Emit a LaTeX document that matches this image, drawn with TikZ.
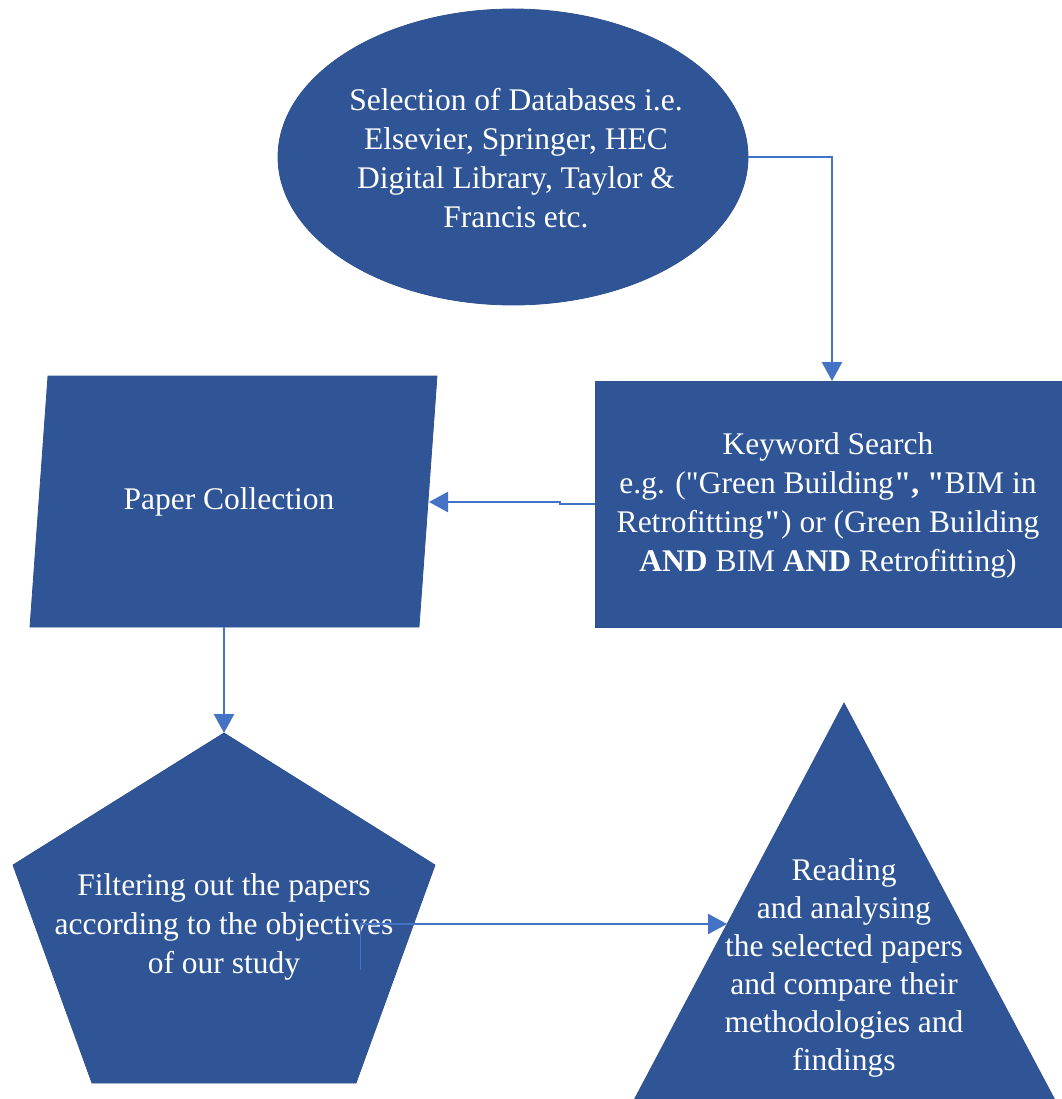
\documentclass[tikz,border=0pt]{standalone}
\usepackage{fontspec}
\setmainfont{Liberation Serif}
\usetikzlibrary{arrows.meta}
\definecolor{shapefill}{HTML}{2F5597}
\definecolor{shapeedge}{HTML}{2F528F}
\definecolor{linkblue}{HTML}{4472C4}
\newcommand{\dq}{\textquotedbl}
\tikzset{
  blockshape/.style={fill=shapefill, draw=shapeedge, line width=0.8pt},
  boxtext/.style={text=white, align=center, font=\fontsize{31.5}{39}\selectfont, inner sep=0pt},
  link/.style={draw=linkblue, line width=2.4pt, -{Triangle[length=19pt,width=20pt]}},
}
\begin{document}
\begin{tikzpicture}[x=1pt,y=-1pt]
\useasboundingbox (0,0) rectangle (1061,1099);

% block outlines
\draw[blockshape] (513,157) ellipse [x radius=235, y radius=148];
\draw[blockshape] (595,381) rectangle (1062,627);
\draw[blockshape] (48,376) -- (437,376) -- (419,627) -- (30,627) -- cycle;
\draw[blockshape] (224,733) -- (435,865) -- (356,1083) -- (92,1083) -- (13,865) -- cycle;
\draw[blockshape] (844,703) -- (1056,1102) -- (633,1102) -- cycle;

% block texts
\node[boxtext] (db) at (516,158) {Selection of Databases i.e.\\Elsevier, Springer, HEC\\Digital Library, Taylor \&\\Francis etc.};
\node[boxtext] (kw) at (828,505) {Keyword Search\\e.g. (\dq Green Building\textbf{\dq, \dq}BIM in\\Retrofitting\textbf{\dq}) or (Green Building\\\textbf{AND} BIM \textbf{AND} Retrofitting)};
\node[boxtext] (pc) at (229,502) {Paper Collection};
\node[boxtext] (flt) at (224,927) {Filtering out the papers\\according to the objectives\\of our study};
\node[boxtext, font=\fontsize{31.5}{38}\selectfont] (rd) at (844,968) {Reading\\and analysing\\the selected papers\\and compare their\\methodologies and\\findings};

% connector end points on the block borders
\coordinate (db-out) at (748,157);
\coordinate (kw-in) at (832,381);
\coordinate (kw-out) at (595,504);
\coordinate (pc-in) at (429,502);
\coordinate (pc-out) at (224,627);
\coordinate (flt-in) at (224,733);
\coordinate (flt-out) at (360,924);
\coordinate (rd-in) at (727,924);

% connectors
\draw[link] (db-out) -| (kw-in);
\draw[link] (kw-out) -- ++(-35,0) -- ++(0,-2) -- (pc-in);
\draw[link] (pc-out) -- (flt-in);
\draw[linkblue, line width=1pt] (flt-out) -- ++(0,46);
\draw[link] (flt-out) -- (rd-in);
\end{tikzpicture}
\end{document}
